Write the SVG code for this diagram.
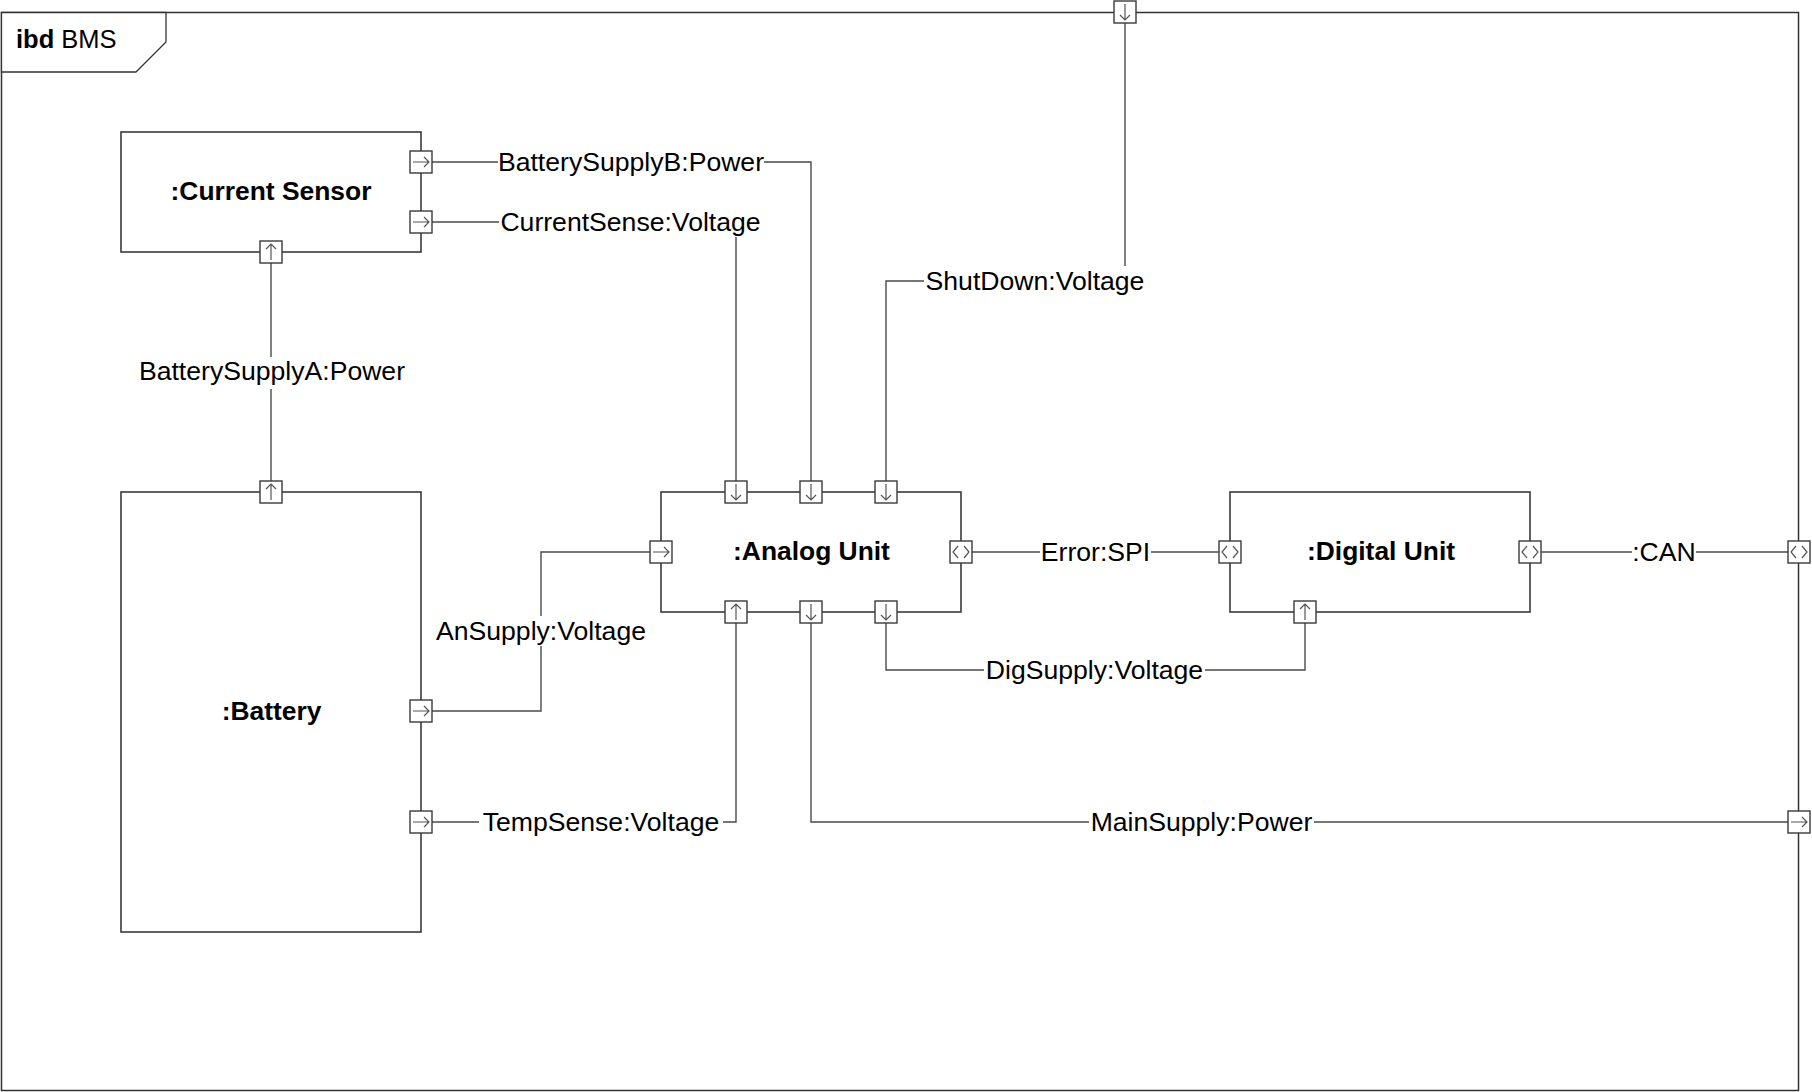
<svg xmlns="http://www.w3.org/2000/svg" width="1812" height="1092" viewBox="0 0 1812 1092">
<style>
.frame{fill:none;stroke:#333;stroke-width:1.5}
.tab{fill:#fff;stroke:#333;stroke-width:1.3}
.box{fill:#fff;stroke:#3a3a3a;stroke-width:1.6}
.port rect{fill:#fff;stroke:#3a3a3a;stroke-width:1.4}
.port path{fill:none;stroke:#555;stroke-width:1.2}
.conn{fill:none;stroke:#4a4a4a;stroke-width:1.4}
.lbg{fill:#fff;stroke:none}
.lbl{font-family:"Liberation Sans",Arial,sans-serif;font-size:26.6px;fill:#000;text-anchor:middle}
.name{font-family:"Liberation Sans",Arial,sans-serif;font-size:26.4px;font-weight:bold;fill:#000;text-anchor:middle}
.title{font-family:"Liberation Sans",Arial,sans-serif;font-size:25.5px;fill:#000}
</style>
<defs>
<g id="pR" class="port"><rect x="-11" y="-11" width="22" height="22"/><path d="M-8 0H8M3-5L8 0L3 5"/></g>
<g id="pD" class="port"><rect x="-11" y="-11" width="22" height="22"/><path d="M0-8V8M-5 3L0 8L5 3"/></g>
<g id="pU" class="port"><rect x="-11" y="-11" width="22" height="22"/><path d="M0 8V-8M-5-3L0-8L5-3"/></g>
<g id="pB" class="port"><rect x="-11" y="-11" width="22" height="22"/><path d="M-3-6L-8 0L-3 6M3-6L8 0L3 6"/></g>
</defs>
<rect x="0" y="0" width="1812" height="1092" fill="#fff"/>
<g id="frame">
<rect class="frame" x="1.5" y="12.5" width="1797" height="1078"/>
<path class="tab" d="M1.5 12.5H166V42L136 72H1.5Z"/>
<text class="title" x="16" y="48"><tspan font-weight="bold">ibd</tspan> BMS</text>
</g>
<g id="connectors">
<path class="conn" d="M432 162H811V481"/>
<path class="conn" d="M432 222H736V481"/>
<path class="conn" d="M886 481V281H1125V23"/>
<path class="conn" d="M271 263V481"/>
<path class="conn" d="M432 711H541V552H650"/>
<path class="conn" d="M432 822H736V623"/>
<path class="conn" d="M811 623V822H1788"/>
<path class="conn" d="M886 623V670H1305V623"/>
<path class="conn" d="M972 552H1219"/>
<path class="conn" d="M1541 552H1788"/>
<rect class="lbg" x="498" y="147" width="266" height="30"/>
<text class="lbl" x="631" y="171">BatterySupplyB:Power</text>
<rect class="lbg" x="499" y="207" width="263" height="30"/>
<text class="lbl" x="630.5" y="231">CurrentSense:Voltage</text>
<rect class="lbg" x="924" y="266" width="222" height="30"/>
<text class="lbl" x="1035" y="290">ShutDown:Voltage</text>
<rect class="lbg" x="138" y="357" width="268" height="32"/>
<text class="lbl" x="272" y="380">BatterySupplyA:Power</text>
<rect class="lbg" x="435" y="616" width="213" height="30"/>
<text class="lbl" x="541" y="640">AnSupply:Voltage</text>
<rect class="lbg" x="479" y="807" width="244" height="30"/>
<text class="lbl" x="601" y="831">TempSense:Voltage</text>
<rect class="lbg" x="1089" y="807" width="225" height="30"/>
<text class="lbl" x="1201.5" y="831">MainSupply:Power</text>
<rect class="lbg" x="984" y="655" width="221" height="30"/>
<text class="lbl" x="1094.5" y="679">DigSupply:Voltage</text>
<rect class="lbg" x="1040" y="537" width="111" height="30"/>
<text class="lbl" x="1095.5" y="561">Error:SPI</text>
<rect class="lbg" x="1632" y="537" width="64" height="30"/>
<text class="lbl" x="1664" y="561">:CAN</text>
</g>
<g id="currentSensor">
<rect class="box" x="121" y="132" width="300" height="120"/>
<text class="name" x="271" y="200">:Current Sensor</text>
<use href="#pR" x="421" y="162"/>
<use href="#pR" x="421" y="222"/>
<use href="#pU" x="271" y="252"/>
</g>
<g id="battery">
<rect class="box" x="121" y="492" width="300" height="440"/>
<text class="name" x="271.5" y="720">:Battery</text>
<use href="#pU" x="271" y="492"/>
<use href="#pR" x="421" y="711"/>
<use href="#pR" x="421" y="822"/>
</g>
<g id="analogUnit">
<rect class="box" x="661" y="492" width="300" height="120"/>
<text class="name" x="811.5" y="560">:Analog Unit</text>
<use href="#pD" x="736" y="492"/>
<use href="#pD" x="811" y="492"/>
<use href="#pD" x="886" y="492"/>
<use href="#pR" x="661" y="552"/>
<use href="#pB" x="961" y="552"/>
<use href="#pU" x="736" y="612"/>
<use href="#pD" x="811" y="612"/>
<use href="#pD" x="886" y="612"/>
</g>
<g id="digitalUnit">
<rect class="box" x="1230" y="492" width="300" height="120"/>
<text class="name" x="1381" y="560">:Digital Unit</text>
<use href="#pB" x="1230" y="552"/>
<use href="#pB" x="1530" y="552"/>
<use href="#pU" x="1305" y="612"/>
</g>
<g id="framePorts">
<use href="#pD" x="1125" y="12"/>
<use href="#pB" x="1799" y="552"/>
<use href="#pR" x="1799" y="822"/>
</g>
</svg>
